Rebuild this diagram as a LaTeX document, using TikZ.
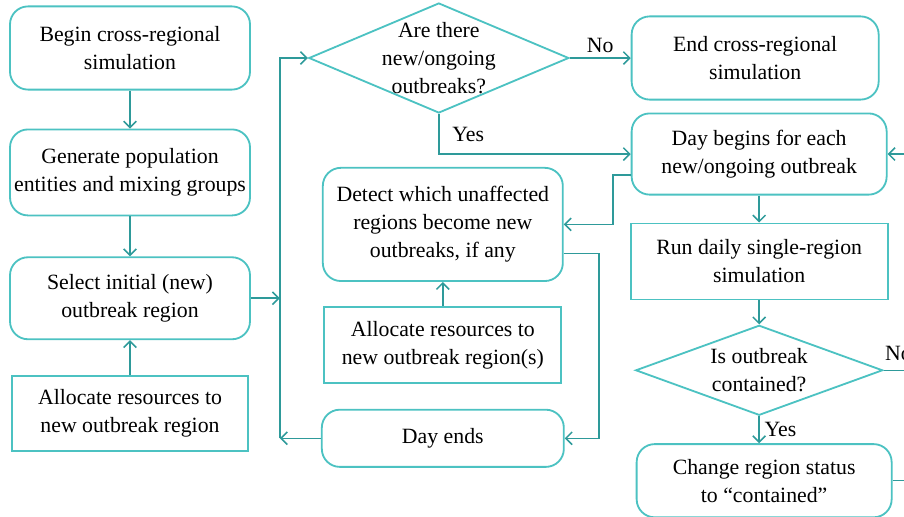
\documentclass[tikz,border=0pt]{standalone}
\usepackage{fontspec}
\setmainfont{Liberation Serif}
\usepackage{xcolor}
\usetikzlibrary{positioning,arrows.meta,shapes.geometric,calc}
\definecolor{boxc}{HTML}{4CC2C2}
\definecolor{linec}{HTML}{2E9A9A}

\begin{document}
\begin{tikzpicture}[
  node distance=0.9cm,
  >={Straight Barb[length=4.5pt,width=9pt]},
  font={\fontsize{15.5}{20}\selectfont},
  rblock/.style={draw=boxc, line width=1.3pt, rounded corners=0.45cm, align=center, inner sep=2pt},
  sblock/.style={draw=boxc, line width=1.3pt, align=center, inner sep=2pt},
  decision/.style={diamond, draw=boxc, line width=1.3pt, align=center, inner sep=0pt},
  arrow/.style={->, draw=linec, line width=1.1pt},
  wire/.style={draw=linec, line width=1.1pt}
]
\path[use as bounding box, clip] (0,0) rectangle (22.6,-12.9);

% left column
\node[rblock, minimum width=6cm, minimum height=2.08cm] (begin) at (3.25,-1.2) {Begin cross-regional\\simulation};
\node[rblock, minimum width=6cm, minimum height=2.15cm, below=0.95cm of begin] (gen) {Generate population\\entities and mixing groups};
\node[rblock, minimum width=6cm, minimum height=2.05cm, below=1cm of gen] (sel) {Select initial (new)\\outbreak region};
\node[sblock, minimum width=5.9cm, minimum height=1.88cm, below=0.875cm of sel] (alloc) {Allocate resources to\\new outbreak region};

% middle column
\node[decision, shape aspect=2.4, inner sep=-4pt, minimum width=6.5cm, minimum height=2.75cm, right=1.425cm of begin, yshift=-0.25cm] (anyout) {Are there\\new/ongoing\\outbreaks?};
\node[rblock, minimum width=6cm, minimum height=2.83cm, below=1.325cm of anyout, xshift=0.1cm] (detect) {Detect which unaffected\\regions become new\\outbreaks, if any};
\node[sblock, minimum width=5.925cm, minimum height=1.9cm, below=0.6cm of detect] (allocnew) {Allocate resources to\\new outbreak region(s)};
\node[rblock, minimum width=6.05cm, minimum height=1.43cm, below=0.625cm of allocnew] (dayend) {Day ends};

% right column
\node[rblock, minimum width=6.175cm, minimum height=2.08cm, right=1.525cm of anyout] (endsim) {End cross-regional\\simulation};
\node[rblock, minimum width=6.375cm, minimum height=2.03cm, below=0.3cm of endsim.south west, anchor=north west] (daybeg) {Day begins for each\\new/ongoing outbreak};
\node[sblock, minimum width=6.425cm, minimum height=1.9cm, below=0.675cm of daybeg] (run) {Run daily single-region\\simulation};
\node[decision, shape aspect=2.7, minimum width=6.175cm, minimum height=2.25cm, below=0.6cm of run] (contain) {Is outbreak\\contained?};
\node[rblock, minimum width=6.375cm, minimum height=1.83cm, below=0.675cm of contain, xshift=0.125cm] (change) {Change region status\\to ``contained''};

\coordinate (jn) at ($(anyout.west)+(-0.7,0)$);
\coordinate (rail) at (23.5,0);

\draw[arrow] (begin) -- (gen);
\draw[arrow] (gen) -- (sel);
\draw[arrow] (alloc) -- (sel);
\draw[arrow] (sel.east) -- (sel.east -| jn);
\draw[arrow] (dayend.west) -- (dayend.west -| jn);
\draw[arrow] (dayend.west -| jn) -- (jn) -- (anyout.west);
\draw[arrow] (anyout.east) -- node[above] {No} (anyout.east -| endsim.west);
\draw[arrow] (anyout.south) |- node[pos=0.25, right=0.2cm] {Yes} (daybeg.west);
\draw[arrow] ([yshift=-0.525cm]daybeg.west) -- ++(-0.45,0) |- (detect.east);
\draw[arrow] ([yshift=-0.725cm]detect.east) -- ++(0.875,0) |- (dayend.east);
\draw[arrow] (allocnew) -- (detect);
\draw[arrow] (daybeg) -- (run);
\draw[arrow] (run) -- (contain);
\draw[arrow] (contain.south) -- node[right] {Yes} (contain.south |- change.north);
\draw[wire] (contain.east) -- node[pos=0, above right, xshift=-0.1cm, yshift=0.1cm] {No} (contain.east -| rail);
\draw[wire] (change.east) -- (change.east -| rail);
\draw[arrow] (daybeg.east -| rail) -- (daybeg.east);
\end{tikzpicture}
\end{document}
